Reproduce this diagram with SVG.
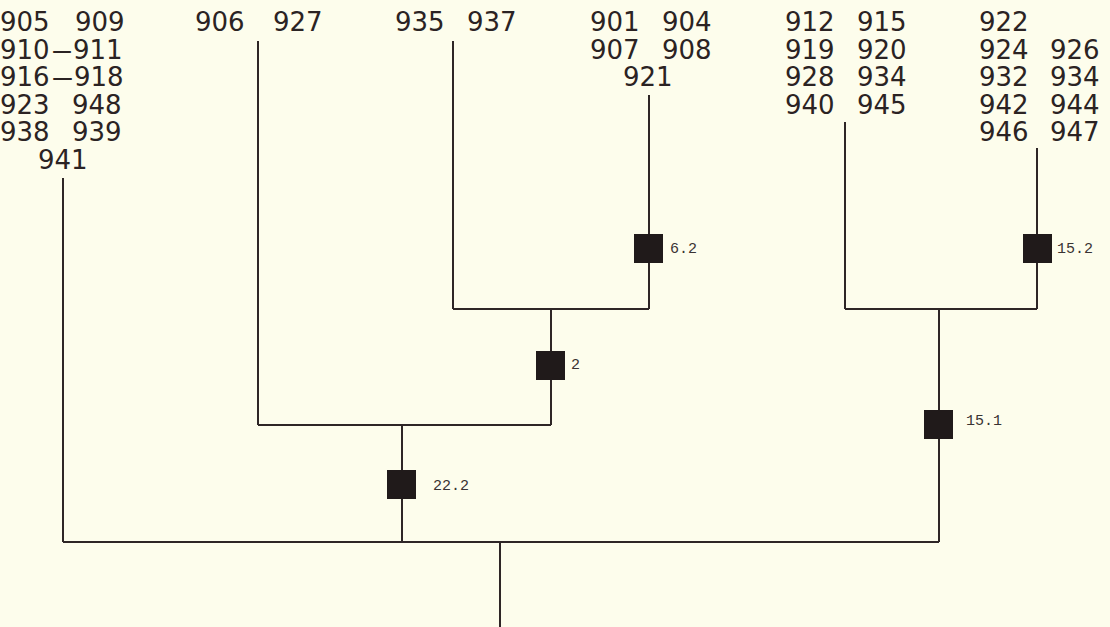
<svg xmlns="http://www.w3.org/2000/svg" width="1110" height="627" viewBox="0 0 1110 627">
<style>
.bg{fill:#fdfdec}
.leaf{font-family:"DejaVu Sans","Liberation Sans",sans-serif;font-size:26px;fill:#2b2323}
.lbl{font-family:"Liberation Mono","DejaVu Sans Mono",monospace;font-size:15px;fill:#3a3333}
.edge{stroke:#2e2626;stroke-width:2;fill:none}
.sq{fill:#201a1a}
</style>
<rect class="bg" x="0" y="0" width="1110" height="627"/>
<g id="connectors">
<path class="edge" d="M63,178V542M258,41V425M453,41V309M649,95V309M845,122V309M1037,148V309"/>
<path class="edge" d="M453,309H649M551,309V425M258,425H551M402,425V542"/>
<path class="edge" d="M845,309H1037M939,309V542M63,542H939M500,542V627"/>
</g>
<g id="leaf-a" class="leaf">
<text y="31"><tspan x="0">905</tspan><tspan x="75">909</tspan></text>
<text y="58.5"><tspan x="0">910</tspan><tspan x="51" textLength="22" lengthAdjust="spacingAndGlyphs">–</tspan><tspan x="73">911</tspan></text>
<text y="86"><tspan x="0">916</tspan><tspan x="51" textLength="23" lengthAdjust="spacingAndGlyphs">–</tspan><tspan x="74">918</tspan></text>
<text y="113.5"><tspan x="0">923</tspan><tspan x="72">948</tspan></text>
<text y="141"><tspan x="0">938</tspan><tspan x="72">939</tspan></text>
<text x="38" y="168.5">941</text>
</g>
<g id="leaf-b" class="leaf">
<text y="31"><tspan x="195">906</tspan><tspan x="273">927</tspan></text>
</g>
<g id="leaf-c" class="leaf">
<text y="31"><tspan x="395">935</tspan><tspan x="467">937</tspan></text>
</g>
<g id="leaf-d" class="leaf">
<text y="31"><tspan x="590">901</tspan><tspan x="662">904</tspan></text>
<text y="58.5"><tspan x="590">907</tspan><tspan x="662">908</tspan></text>
<text x="623" y="86">921</text>
</g>
<g id="leaf-e" class="leaf">
<text y="31"><tspan x="785">912</tspan><tspan x="857">915</tspan></text>
<text y="58.5"><tspan x="785">919</tspan><tspan x="857">920</tspan></text>
<text y="86"><tspan x="785">928</tspan><tspan x="857">934</tspan></text>
<text y="113.5"><tspan x="785">940</tspan><tspan x="857">945</tspan></text>
</g>
<g id="leaf-f" class="leaf">
<text x="979" y="31">922</text>
<text y="58.5"><tspan x="979">924</tspan><tspan x="1050">926</tspan></text>
<text y="86"><tspan x="979">932</tspan><tspan x="1050">934</tspan></text>
<text y="113.5"><tspan x="979">942</tspan><tspan x="1050">944</tspan></text>
<text y="141"><tspan x="979">946</tspan><tspan x="1050">947</tspan></text>
</g>
<g id="node-6.2"><rect class="sq" x="634" y="234" width="29" height="29"/><text class="lbl" x="670" y="253">6.2</text></g>
<g id="node-15.2"><rect class="sq" x="1023" y="234" width="29" height="29"/><text class="lbl" x="1057" y="253">15.2</text></g>
<g id="node-2"><rect class="sq" x="536" y="351" width="29" height="29"/><text class="lbl" x="571" y="369">2</text></g>
<g id="node-15.1"><rect class="sq" x="924" y="410" width="29" height="29"/><text class="lbl" x="966" y="425">15.1</text></g>
<g id="node-22.2"><rect class="sq" x="387" y="470" width="29" height="29"/><text class="lbl" x="433" y="490">22.2</text></g>
</svg>
